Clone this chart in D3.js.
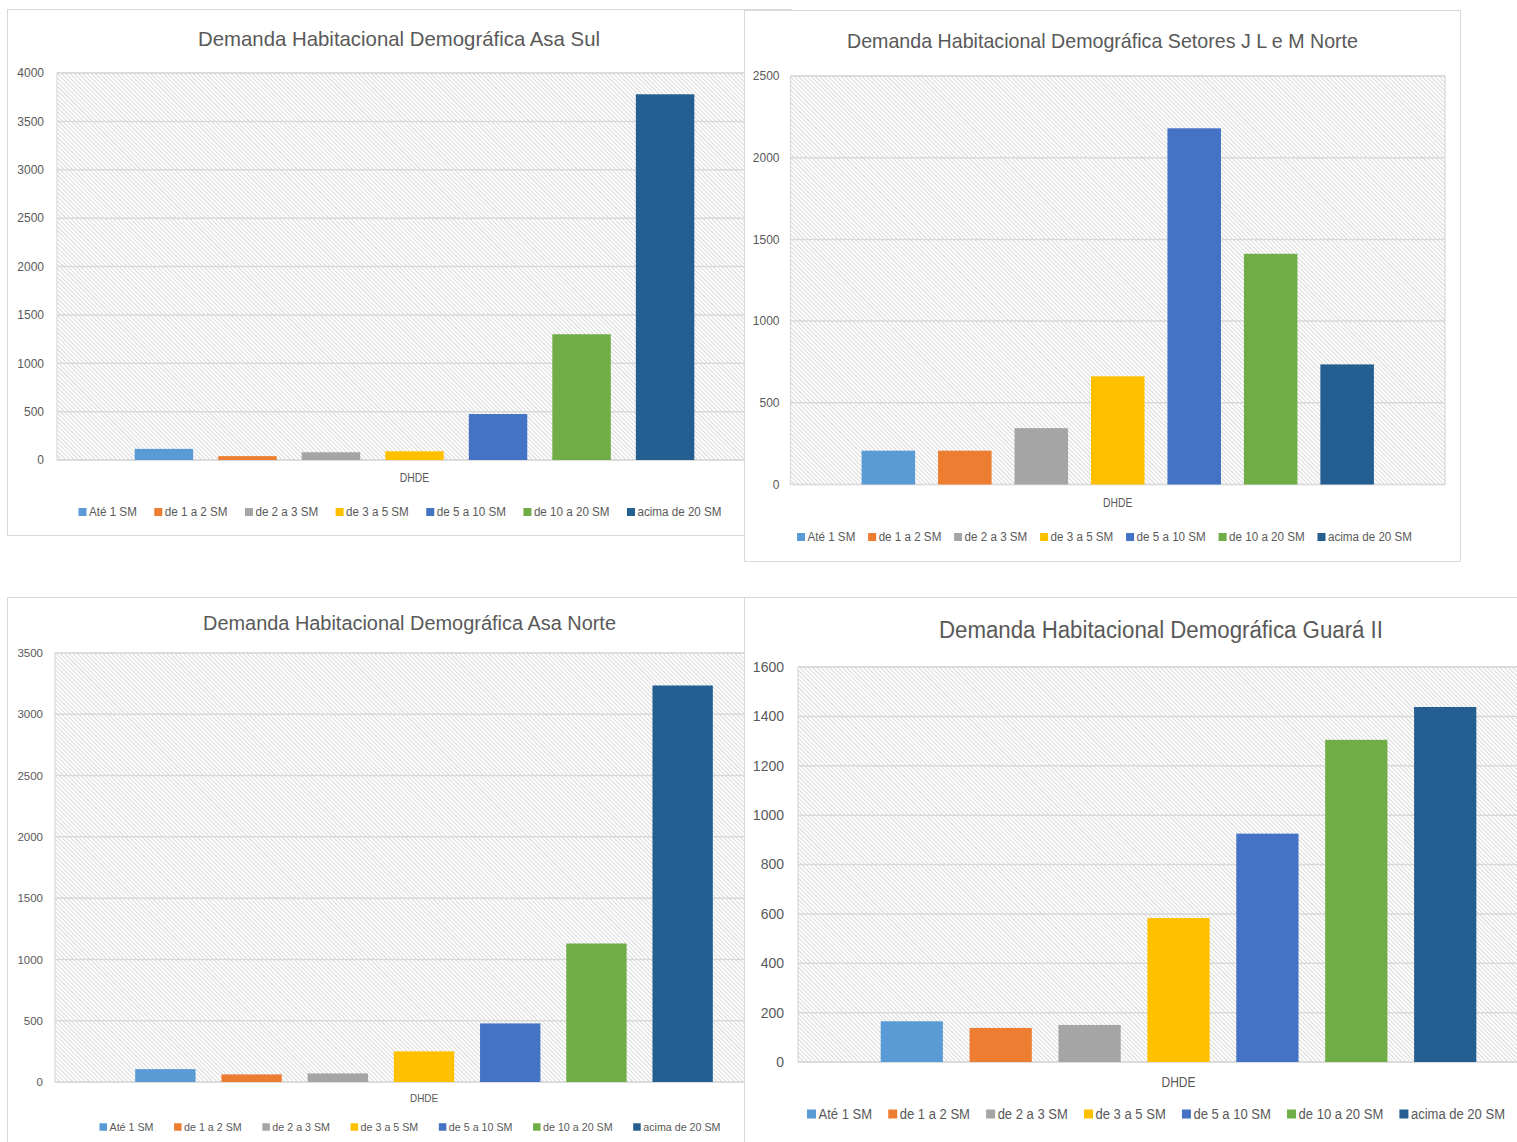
<!DOCTYPE html>
<html>
<head>
<meta charset="utf-8">
<script src="https://cdn.jsdelivr.net/npm/d3@7"></script>
<style>
  html, body { margin: 0; padding: 0; background: #fff; }
  svg { display: block; }
  text { font-family: "Liberation Sans", Arial, sans-serif; fill: #595959; }
</style>
</head>
<body>
<svg id="chart" width="1517" height="1142"></svg>
<script>
// ---------------- DATA ----------------
const categories = ["Até 1 SM", "de 1 a 2 SM", "de 2 a 3 SM", "de 3 a 5 SM", "de 5 a 10 SM", "de 10 a 20 SM", "acima de 20 SM"];
const colors = ["#5B9BD5", "#ED7D31", "#A5A5A5", "#FFC000", "#4472C4", "#70AD47", "#255E91"];
const xAxisLabel = "DHDE";

const titleAsaSul = "Demanda Habitacional Demográfica Asa Sul";
const valuesAsaSul = [115, 40, 80, 90, 475, 1300, 3780];
const ticksAsaSul = [0, 500, 1000, 1500, 2000, 2500, 3000, 3500, 4000];

const titleSetores = "Demanda Habitacional Demográfica Setores J L e M Norte";
const valuesSetores = [207, 207, 345, 662, 2180, 1412, 735];
const ticksSetores = [0, 500, 1000, 1500, 2000, 2500];

const titleAsaNorte = "Demanda Habitacional Demográfica Asa Norte";
const valuesAsaNorte = [105, 62, 70, 250, 478, 1130, 3235];
const ticksAsaNorte = [0, 500, 1000, 1500, 2000, 2500, 3000, 3500];

const titleGuara = "Demanda Habitacional Demográfica Guará II";
const valuesGuara = [165, 138, 150, 583, 925, 1305, 1438];
const ticksGuara = [0, 200, 400, 600, 800, 1000, 1200, 1400, 1600];

// ---------------- LAYOUT (positions / styles only) ----------------
const panels = [
  { title: titleAsaSul, values: valuesAsaSul, ticks: ticksAsaSul,
    panel: {x: 7, y: 9, w: 784, h: 526},
    plot: {x: 57, y: 73, w: 715, h: 387},
    titleY: 38, titleX: 399, titleW: 402, titleSize: 21,
    tickSize: 12, tickGap: 13,
    axisLabelY: 478, legendY: 512, legendSize: 12.5, legendX: 400, legendW: 643, sq: 8 },
  { title: titleAsaNorte, values: valuesAsaNorte, ticks: ticksAsaNorte,
    panel: {x: 7, y: 597, w: 804, h: 560},
    plot: {x: 55, y: 653, w: 738, h: 429},
    titleY: 623, titleX: 409.5, titleW: 413, titleSize: 20,
    tickSize: 11.5, tickGap: 12,
    axisLabelY: 1098, legendY: 1127, legendSize: 11.5, legendX: 410, legendW: 621, sq: 7.5 },
  { title: titleSetores, values: valuesSetores, ticks: ticksSetores,
    panel: {x: 744, y: 10, w: 716, h: 551},
    plot: {x: 790.5, y: 76, w: 654.5, h: 408.5},
    titleY: 40, titleX: 1102.5, titleW: 511, titleSize: 21,
    tickSize: 12, tickGap: 11,
    axisLabelY: 503, legendY: 537, legendSize: 12.5, legendX: 1104.5, legendW: 615, sq: 8 },
  { title: titleGuara, values: valuesGuara, ticks: ticksGuara,
    panel: {x: 744, y: 597, w: 832, h: 560},
    plot: {x: 798, y: 667, w: 761, h: 395},
    titleY: 630, titleX: 1161, titleW: 444, titleSize: 23,
    tickSize: 14, tickGap: 14,
    axisLabelY: 1082, legendY: 1114, legendSize: 14, legendX: 1156, legendW: 698, sq: 9 }
];
const legendCompress = 0.93;
const labelCompress = 0.86;

const svg = d3.select("#chart");
const defs = svg.append("defs");
defs.append("pattern")
  .attr("id", "hatch")
  .attr("patternUnits", "userSpaceOnUse")
  .attr("width", 3).attr("height", 3)
  .attr("patternTransform", "rotate(-45)")
  .append("rect")
  .attr("x", 0).attr("y", 0).attr("width", 1).attr("height", 3)
  .attr("fill", "#d9d9d9");

panels.forEach(cfg => {
  const g = svg.append("g");
  const P = cfg.panel, A = cfg.plot;

  // panel background + border
  g.append("rect")
    .attr("x", P.x + 0.5).attr("y", P.y + 0.5)
    .attr("width", P.w).attr("height", P.h)
    .attr("fill", "#fff").attr("stroke", "#d9d9d9").attr("stroke-width", 1);

  // plot area
  g.append("rect")
    .attr("x", A.x).attr("y", A.y).attr("width", A.w).attr("height", A.h)
    .attr("fill", "#fff");
  g.append("rect")
    .attr("x", A.x).attr("y", A.y).attr("width", A.w).attr("height", A.h)
    .attr("fill", "url(#hatch)")
    .attr("stroke", "#d9d9d9").attr("stroke-width", 1.2);

  const yMax = cfg.ticks[cfg.ticks.length - 1];
  const y = d3.scaleLinear().domain([0, yMax]).range([A.y + A.h, A.y]);
  const x = d3.scaleBand().domain(categories)
    .range([A.x, A.x + A.w]).paddingInner(0.3).paddingOuter(0.93);

  // gridlines
  g.append("g").selectAll("line").data(cfg.ticks).join("line")
    .attr("x1", A.x).attr("x2", A.x + A.w)
    .attr("y1", d => y(d)).attr("y2", d => y(d))
    .attr("stroke", "#d9d9d9").attr("stroke-width", 1.5);

  // y axis labels
  const yAxis = d3.axisLeft(y).tickValues(cfg.ticks).tickSize(0).tickPadding(cfg.tickGap)
    .tickFormat(d3.format("d"));
  const ax = g.append("g").attr("transform", `translate(${A.x},0)`).call(yAxis);
  ax.select(".domain").remove();
  ax.selectAll("text")
    .style("font-family", '"Liberation Sans", Arial, sans-serif')
    .style("font-size", cfg.tickSize + "px").attr("fill", "#595959");

  // bars
  g.append("g").selectAll("rect").data(cfg.values).join("rect")
    .attr("x", (d, i) => x(categories[i]))
    .attr("y", d => y(d))
    .attr("width", x.bandwidth())
    .attr("height", d => y(0) - y(d))
    .attr("fill", (d, i) => colors[i]);

  // title
  g.append("text")
    .attr("x", cfg.titleX).attr("y", cfg.titleY)
    .attr("text-anchor", "middle").attr("dominant-baseline", "central")
    .attr("textLength", cfg.titleW).attr("lengthAdjust", "spacingAndGlyphs")
    .style("font-size", cfg.titleSize + "px")
    .text(cfg.title);

  // x axis label
  const xl = g.append("text")
    .attr("x", x(categories[0]) + (x(categories[6]) + x.bandwidth() - x(categories[0])) / 2)
    .attr("y", cfg.axisLabelY)
    .attr("text-anchor", "middle").attr("dominant-baseline", "central")
    .style("font-size", (cfg.tickSize) + "px")
    .text(xAxisLabel);
  xl.attr("textLength", xl.node().getComputedTextLength() * labelCompress)
    .attr("lengthAdjust", "spacingAndGlyphs");

  // legend
  const lg = g.append("g");
  const items = lg.selectAll("g").data(categories).join("g");
  items.append("rect")
    .attr("width", cfg.sq).attr("height", cfg.sq)
    .attr("y", cfg.legendY - cfg.sq / 2)
    .attr("fill", (d, i) => colors[i]);
  const texts = items.append("text")
    .attr("y", cfg.legendY)
    .attr("dominant-baseline", "central")
    .style("font-size", cfg.legendSize + "px")
    .text(d => d);
  const gapSq = 2.5;
  const widths = [];
  texts.each(function () {
    const w = this.getComputedTextLength() * legendCompress;
    widths.push(w);
    d3.select(this).attr("textLength", w).attr("lengthAdjust", "spacingAndGlyphs");
  });
  const natural = d3.sum(widths) + categories.length * (cfg.sq + gapSq);
  const itemGap = (cfg.legendW - natural) / (categories.length - 1);
  let cx = cfg.legendX - cfg.legendW / 2;
  items.each(function (d, i) {
    d3.select(this).attr("transform", `translate(${cx},0)`);
    d3.select(this).select("text").attr("x", cfg.sq + gapSq);
    cx += cfg.sq + gapSq + widths[i] + itemGap;
  });
});
</script>
</body>
</html>
